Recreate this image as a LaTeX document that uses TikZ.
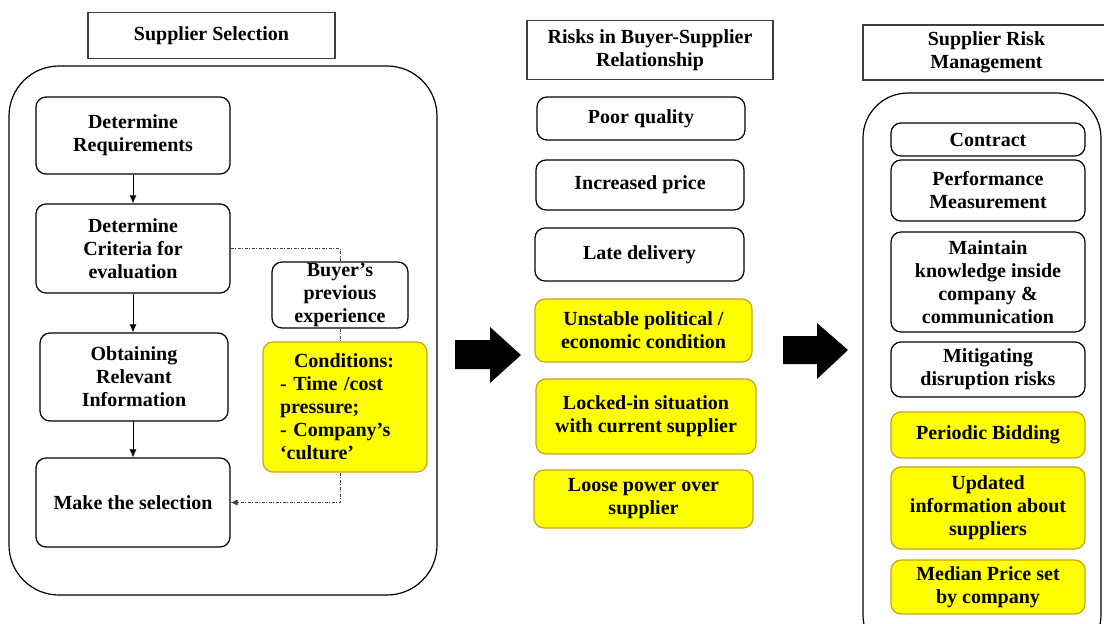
\documentclass[tikz,border=0pt]{standalone}
\usepackage{fontspec}
\setmainfont{Liberation Serif}
\usetikzlibrary{arrows.meta}

\definecolor{boxyellow}{RGB}{255,255,0}
\definecolor{boxgold}{RGB}{205,160,30}
\definecolor{titlegray}{RGB}{60,60,60}

\begin{document}
\begin{tikzpicture}[x=1pt,y=-1pt,black,line width=1.2pt,
    font=\fontsize{20}{23}\selectfont\bfseries,
    heading/.style={draw=titlegray,line width=1.5pt,inner sep=0pt,align=center},
    stage/.style={draw,rounded corners=10pt,inner sep=0pt,align=center},
    cond/.style={stage,fill=boxyellow,draw=boxgold},
    flow/.style={-{Latex[length=8pt,width=7pt]},line width=0.9pt},
    link/.style={line width=0.6pt,black!75,dash pattern=on 3pt off 1.5pt on 1pt off 1.5pt}]

\useasboundingbox (0,0) rectangle (1104,624);

% Supplier selection
\node[heading,minimum width=247,minimum height=46] (seltitle) at (211.5,35.5) {Supplier Selection};
\draw[rounded corners=50pt] (9,66) rectangle (437,595);

\node[stage,minimum width=194,minimum height=77] (req) at (133,135.5) {Determine\\Requirements};
\node[stage,minimum width=194,minimum height=89] (crit) at (133,248.5) {Determine\\Criteria for\\evaluation};
\node[stage,minimum width=188,minimum height=88] (info) at (134,377) {Obtaining\\Relevant\\Information};
\node[stage,minimum width=194,minimum height=89] (sel) at (133,502.5) {Make the selection};

\node[stage,minimum width=136,minimum height=66] (buyer) at (340,295) {Buyer's\\previous\\experience};
\node[cond,minimum width=164,minimum height=130,text width=130,align=left] (cond) at (345,407)
  {\hspace*{14pt}Conditions:\\- Time /cost\\pressure;\\- Company's\\`culture'};

\draw[flow] (req) -- (crit);
\draw[flow] (crit.south) -- (crit.south |- info.north);
\draw[flow] (info.south) -- (info.south -| sel.north) -- (sel.north);

% Influences on the choice
\draw[link] (crit.east) -| (buyer.north);
\draw[link] (buyer.south) -- (buyer.south |- cond.north);
\draw[link,-{Latex[length=7pt,width=6pt]}] (buyer.south |- cond.south) |- (sel.east);

% Big arrows
\fill (455,340) -- (490,340) -- (490,327) -- (521,355) -- (490,383) -- (490,369) -- (455,369) -- cycle;
\fill (783,336) -- (817,336) -- (817,323) -- (848,350) -- (817,379) -- (817,364) -- (783,364) -- cycle;

% Risks
\node[heading,minimum width=246,minimum height=59] (risktitle) at (650,50) {Risks in Buyer-Supplier\\Relationship};
\node[stage,minimum width=208,minimum height=43] (poor) at (641,118.5) {Poor quality};
\node[stage,minimum width=208,minimum height=50] (price) at (640,185) {Increased price};
\node[stage,minimum width=209,minimum height=53] (late) at (639.5,254.5) {Late delivery};
\node[cond,minimum width=217,minimum height=63] (unstable) at (643.5,330.5) {Unstable political /\\economic condition};
\node[cond,minimum width=220,minimum height=75] (locked) at (646,416.5) {Locked-in situation\\with current supplier};
\node[cond,minimum width=219,minimum height=58] (loose) at (643.5,499) {Loose power over\\supplier};

% Risk management
\node[heading,minimum width=247,minimum height=55] (mgmttitle) at (986.5,52.5) {Supplier Risk\\Management};
\draw[rounded corners=45pt] (863,93) rectangle (1101,660);

\node[stage,minimum width=194,minimum height=33] (contract) at (988,139.5) {Contract};
\node[stage,minimum width=194,minimum height=61] (perf) at (988,190.5) {Performance\\Measurement};
\node[stage,minimum width=194,minimum height=100] (maintain) at (988,282) {Maintain\\knowledge inside\\company \&\\communication};
\node[stage,minimum width=194,minimum height=55] (mitig) at (988,369.5) {Mitigating\\disruption risks};
\node[cond,minimum width=194,minimum height=46] (bidding) at (988,435) {Periodic Bidding};
\node[cond,minimum width=194,minimum height=82] (updated) at (988,508) {Updated\\information about\\suppliers};
\node[cond,minimum width=194,minimum height=54] (median) at (988,587) {Median Price set\\by company};

\end{tikzpicture}
\end{document}
